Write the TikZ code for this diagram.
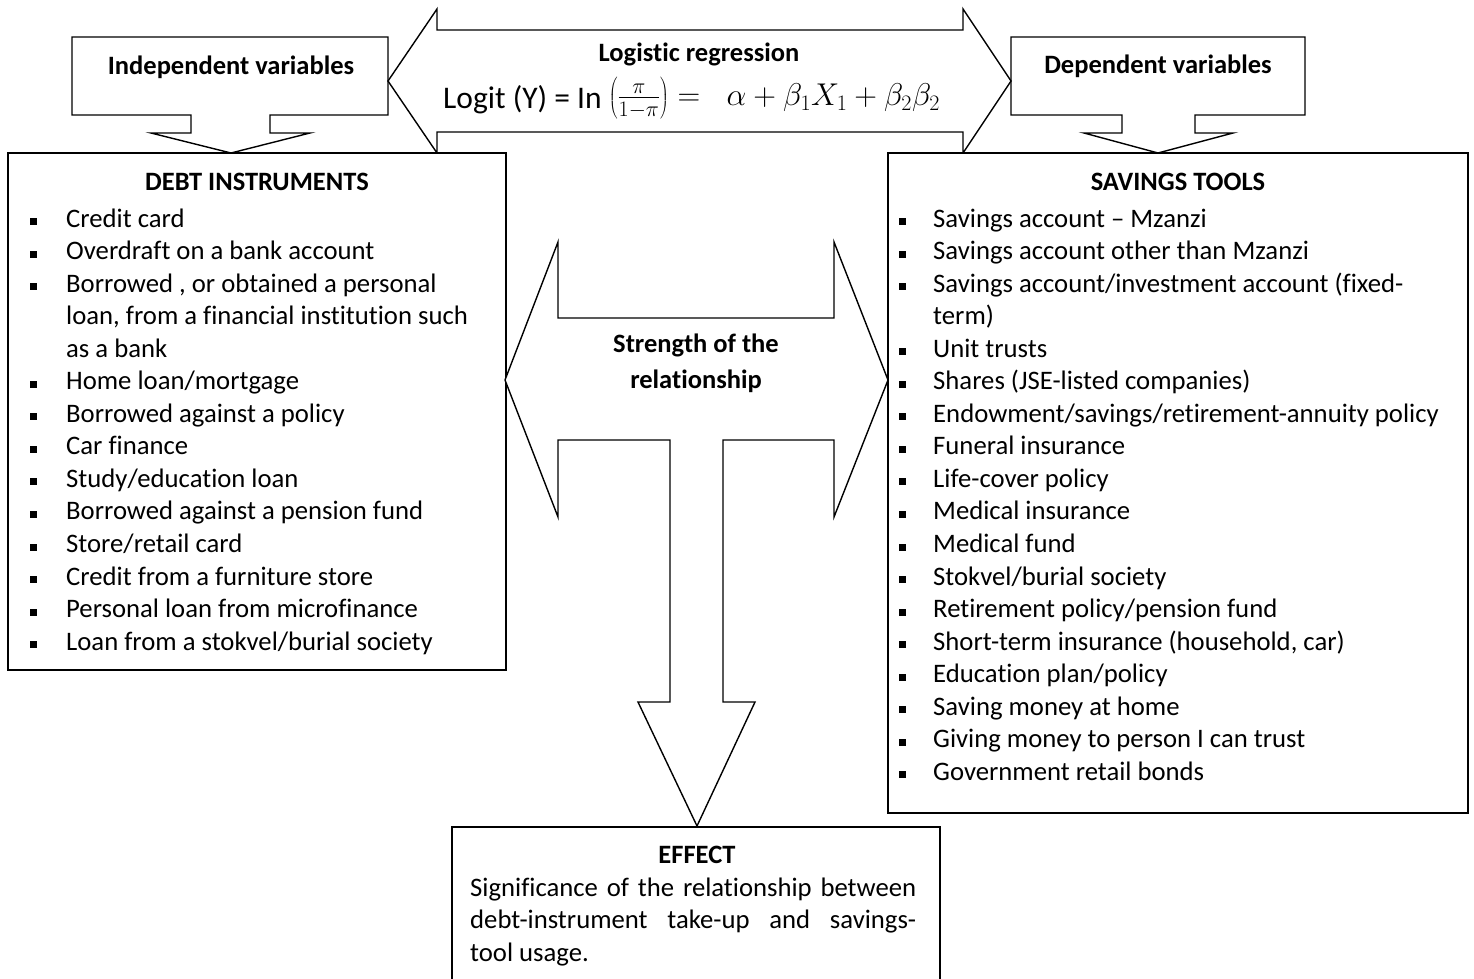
\RequirePackage{fix-cm}
\documentclass[tikz,border=0pt]{standalone}
\usepackage{fontspec}
\setmainfont{Carlito}[Ligatures=NoCommon]
\begin{document}
\begin{tikzpicture}[x=1pt,y=-1pt,line join=miter]
\tikzset{
  shp/.style={draw=black,line width=1.4pt,fill=white},
  txt/.style={font=\fontsize{26.7}{32}\selectfont,inner sep=0pt,anchor=base west},
  hdr/.style={font=\fontsize{26.5}{32}\selectfont\bfseries,inner sep=0pt,anchor=base},
  bul/.style={fill=black,draw=none,rectangle,minimum size=7pt,inner sep=0pt},
}
\useasboundingbox (0,0) rectangle (1474,979);
% top callouts
\draw[shp] (72,37)--(388,37)--(388,115)--(270,115)--(270,133)--(310,133)--(231,153)--(151,133)--(191,133)--(191,115)--(72,115)--cycle;
\draw[shp] (1011,37)--(1305,37)--(1305,115)--(1195,115)--(1195,133)--(1233,133)--(1158,153)--(1084,133)--(1122,133)--(1122,115)--(1011,115)--cycle;
\node[hdr] (indep) at (231,75) {Independent variables};
\node[hdr] (dep) at (1158,74) {Dependent variables};
% top double arrow
\draw[shp] (388,81)--(437,9)--(437,30)--(963,30)--(963,9)--(1011,81)--(963,153)--(963,132)--(437,132)--(437,153)--cycle;
\node[hdr] (logreg) at (699,62) {Logistic regression};
\node[inner sep=0pt,anchor=base west,font=\fontsize{31.5}{36}\selectfont] (formula) at (443,109)
  {Logit (Y) = In \raisebox{3.5pt}{$\left(\vcenter{\hbox{\rule{0pt}{38pt}}}\frac{\pi}{1-\pi}\right) =\;\;\alpha+\beta_1X_1+\beta_2\beta_2$}};
% boxes
\draw[shp] (8,153) rectangle (506,670);
\draw[shp] (888,153) rectangle (1468,813);
\draw[shp] (452,990)--(452,827)--(940,827)--(940,990);
% middle T arrow
\draw[shp] (505,380)--(558,242)--(558,318)--(834,318)--(834,242)--(888,380)--(834,517)--(834,440)--(723,440)--(723,702)--(755,702)--(697,826)--(638,702)--(670,702)--(670,440)--(558,440)--(558,517)--cycle;
\node[hdr] (str1) at (696,352) {Strength of the};
\node[hdr] (str2) at (696,388) {relationship};
% debt instruments
\node[hdr] (debth) at (257,190) {DEBT INSTRUMENTS};
\foreach \t [count=\i from 0] in {Credit card,Overdraft on a bank account,{Borrowed , or obtained a personal},{loan, from a financial institution such},as a bank,Home loan/mortgage,Borrowed against a policy,Car finance,Study/education loan,Borrowed against a pension fund,Store/retail card,Credit from a furniture store,Personal loan from microfinance,Loan from a stokvel/burial society}
  \node[txt] (d\i) at (66,227+32.55*\i) {\t};
\foreach \i in {0,1,2,5,6,7,8,9,10,11,12,13}
  \node[bul] (db\i) at (33,221.5+32.55*\i) {};
% savings tools
\node[hdr] (savh) at (1178,190) {SAVINGS TOOLS};
\foreach \t [count=\i from 0] in {Savings account – Mzanzi,Savings account other than Mzanzi,Savings account/investment account (fixed-,term),Unit trusts,Shares (JSE-listed companies),Endowment/savings/retirement-annuity policy,Funeral insurance,Life-cover policy,Medical insurance,Medical fund,Stokvel/burial society,Retirement policy/pension fund,{Short-term insurance (household, car)},Education plan/policy,Saving money at home,Giving money to person I can trust,Government retail bonds}
  \node[txt] (s\i) at (933,227+32.55*\i) {\t};
\foreach \i in {0,1,2,4,5,6,7,8,9,10,11,12,13,14,15,16,17}
  \node[bul] (sb\i) at (902,221.5+32.55*\i) {};
% effect
\node[hdr] (effh) at (697,863) {EFFECT};
\node[txt] (e1) at (470,896) {\makebox[446pt][s]{Significance of the relationship between}};
\node[txt] (e2) at (470,928.5) {\makebox[446pt][s]{debt-instrument take-up and savings-}};
\node[txt] (e3) at (470,961) {tool usage.};
\end{tikzpicture}
\end{document}
